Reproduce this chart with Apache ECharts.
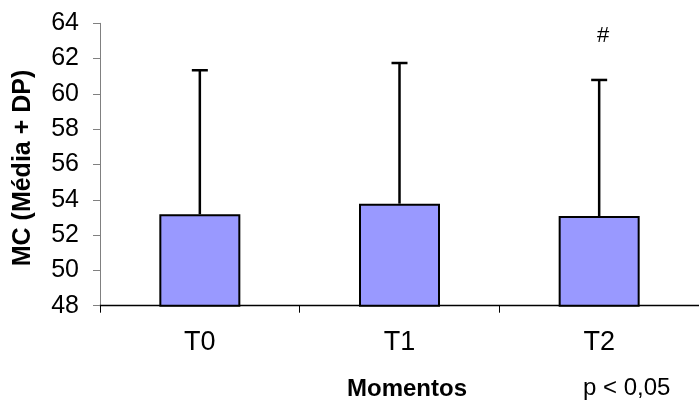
<!DOCTYPE html>
<html>
<head>
<meta charset="utf-8">
<script src="https://cdn.jsdelivr.net/npm/echarts@6/dist/echarts.min.js"></script>
<style>
  html, body { margin: 0; padding: 0; background: #ffffff; }
  #chart { width: 699px; height: 401px; }
</style>
</head>
<body>
<div id="chart"></div>
<script>
// Moments of measurement
const categories = ['T0', 'T1', 'T2'];
// Mean MC per moment
const means = [53.18, 53.78, 53.08];
// Standard deviation per moment (drawn upward from the mean)
const deviations = [8.16, 7.97, 7.71];
// Significance marks above each error bar
const marks = ['', '', '#'];
// Y axis scale
const yMin = 48;
const yMax = 64;
const yStep = 2;
// Axis titles and footnote
const xTitle = 'Momentos';
const yTitle = 'MC (Média + DP)';
const footnote = 'p < 0,05';

const FONT = '"Liberation Sans", Arial, sans-serif';

const chart = echarts.init(document.getElementById('chart'), null, { renderer: 'canvas' });

const errorData = categories.map((c, i) => [i, means[i], means[i] + deviations[i]]);

chart.setOption({
  animation: false,
  backgroundColor: '#ffffff',
  grid: { left: 100, top: 23.3, width: 606, height: 282.4, containLabel: false },
  xAxis: {
    type: 'category',
    data: categories,
    boundaryGap: true,
    axisLine: { lineStyle: { color: '#000000', width: 1.3 } },
    axisTick: { show: true, length: 7, lineStyle: { color: '#000000', width: 1 } },
    axisLabel: { color: '#000000', fontSize: 27, fontFamily: FONT, margin: 23 }
  },
  yAxis: {
    type: 'value',
    min: yMin,
    max: yMax,
    interval: yStep,
    axisLine: { show: true, lineStyle: { color: '#808080', width: 1 } },
    axisTick: { show: true, length: 7, lineStyle: { color: '#808080', width: 1 } },
    splitLine: { show: false },
    axisLabel: { color: '#000000', fontSize: 25, fontFamily: FONT, margin: 21 }
  },
  series: [
    {
      type: 'bar',
      data: means,
      barWidth: 81,
      itemStyle: { color: '#9999FF', borderColor: '#000000', borderWidth: 2 },
      z: 2
    },
    {
      type: 'custom',
      data: errorData,
      z: 3,
      renderItem: function (params, api) {
        const x = api.value(0);
        const base = api.coord([x, api.value(1)]);
        const top = api.coord([x, api.value(2)]);
        const capHalf = 8;
        const children = [
          { type: 'line', shape: { x1: base[0], y1: base[1], x2: top[0], y2: top[1] },
            style: { stroke: '#000000', lineWidth: 2.5 } },
          { type: 'line', shape: { x1: top[0] - capHalf, y1: top[1], x2: top[0] + capHalf, y2: top[1] },
            style: { stroke: '#000000', lineWidth: 2.5 } }
        ];
        const mark = marks[params.dataIndex];
        if (mark) {
          children.push({
            type: 'text',
            style: { text: mark, x: top[0] + 4, y: top[1] - 44, align: 'center', verticalAlign: 'middle',
                     fill: '#000000', fontSize: 22, fontFamily: FONT }
          });
        }
        return { type: 'group', children: children };
      }
    }
  ],
  graphic: [
    {
      type: 'text',
      x: 23,
      y: 168,
      rotation: Math.PI / 2,
      style: { text: yTitle, fill: '#000000', fontSize: 25, fontWeight: 'bold', fontFamily: FONT,
               align: 'center', verticalAlign: 'middle' }
    },
    {
      type: 'text',
      x: 407,
      y: 389,
      style: { text: xTitle, fill: '#000000', fontSize: 24, fontWeight: 'bold', fontFamily: FONT,
               align: 'center', verticalAlign: 'middle' }
    },
    {
      type: 'text',
      x: 583,
      y: 388,
      style: { text: footnote, fill: '#000000', fontSize: 24, fontFamily: FONT,
               align: 'left', verticalAlign: 'middle' }
    }
  ]
});
</script>
</body>
</html>
